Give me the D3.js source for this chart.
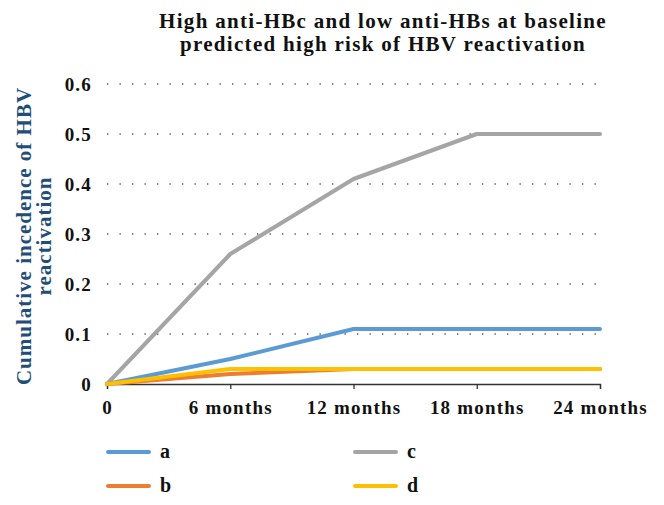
<!DOCTYPE html>
<html><head><meta charset="utf-8">
<script src="https://cdn.jsdelivr.net/npm/d3@7"></script>
<style>body{margin:0;background:#fff}svg{display:block}</style>
</head><body>
<script>
const categories = ["0", "6 months", "12 months", "18 months", "24 months"];
const seriesNames = ["a", "b", "c", "d"];
const aValues = [0, 0.05, 0.11, 0.11, 0.11];
const bValues = [0, 0.02, 0.03, 0.03, 0.03];
const cValues = [0, 0.26, 0.41, 0.5, 0.5];
const dValues = [0, 0.03, 0.03, 0.03, 0.03];
const yTicks = [0, 0.1, 0.2, 0.3, 0.4, 0.5, 0.6];
const colors = ["#5B9BD5", "#ED7D31", "#A5A5A5", "#FFC000"];
const titleLines = ["High anti-HBc and low anti-HBs at baseline", "predicted high risk of HBV reactivation"];
const yTitleLines = ["Cumulative incedence of HBV", "reactivation"];

const W = 664, H = 505;
const font = "'Liberation Serif', 'DejaVu Serif', serif";
const svg = d3.select("body").append("svg").attr("width", W).attr("height", H);

const x = d3.scalePoint().domain(categories).range([107, 600]);
const y = d3.scaleLinear().domain([0, 0.6]).range([384, 84]);

// gridlines
svg.append("g").selectAll("line").data(yTicks.filter(t => t > 0)).join("line")
  .attr("x1", 107).attr("x2", 600)
  .attr("y1", d => y(d)).attr("y2", d => y(d))
  .attr("stroke", "#555").attr("stroke-width", 1.3)
  .attr("stroke-dasharray", "1.3,11.2");

// y tick labels
svg.append("g").selectAll("text").data(yTicks).join("text")
  .attr("x", 92).attr("y", d => y(d)).attr("dy", "0.35em")
  .attr("text-anchor", "end")
  .style("font-family", font).style("font-weight", "bold").style("font-size", "19px")
  .style("letter-spacing", "1.2px")
  .attr("fill", "#111")
  .text(d => d === 0 ? "0" : d3.format(".1f")(d));

// x axis
const xAxis = d3.axisBottom(x).tickSize(5).tickFormat(d => d);
const gx = svg.append("g").attr("transform", `translate(0,${y(0)})`).call(xAxis);
gx.select(".domain").attr("stroke", "#333").attr("stroke-width", 1.3);
gx.selectAll(".tick line").attr("stroke", "#333").attr("stroke-width", 1.3);
gx.selectAll(".tick text")
  .style("font-family", font).style("font-weight", "bold").style("font-size", "19px")
  .style("letter-spacing", "1.2px")
  .attr("fill", "#111").attr("y", 30).attr("dy", 0);

// lines
const allSeries = [aValues, bValues, cValues, dValues];
const line = d3.line().x((d, i) => x(categories[i])).y(d => y(d));
const drawOrder = [2, 0, 1, 3];
svg.append("g").selectAll("path").data(drawOrder).join("path")
  .attr("d", i => line(allSeries[i]))
  .attr("fill", "none").attr("stroke", i => colors[i])
  .attr("stroke-width", 4).attr("stroke-linecap", "round").attr("stroke-linejoin", "round");

// title
svg.append("g").selectAll("text").data(titleLines).join("text")
  .attr("x", 383).attr("y", (d, i) => 28 + i * 23)
  .attr("text-anchor", "middle")
  .style("font-family", font).style("font-weight", "bold").style("font-size", "21px")
  .style("letter-spacing", "1.3px")
  .attr("fill", "#111").text(d => d);

// y title
svg.append("g").attr("transform", "translate(0,236) rotate(-90)")
  .selectAll("text").data(yTitleLines).join("text")
  .attr("x", 0).attr("y", (d, i) => 31 + i * 20)
  .attr("text-anchor", "middle")
  .style("font-family", font).style("font-weight", "bold").style("font-size", "21px")
  .style("letter-spacing", "1px")
  .attr("fill", "#1F4E79").text(d => d);

// legend
const legPos = [[106, 452], [106, 486], [353, 452], [353, 486]];
const leg = svg.append("g").selectAll("g").data(seriesNames).join("g")
  .attr("transform", (d, i) => `translate(${legPos[i][0]},${legPos[i][1]})`);
leg.append("line").attr("x1", 2).attr("x2", 43).attr("y1", 0).attr("y2", 0)
  .attr("stroke", (d, i) => colors[i]).attr("stroke-width", 4).attr("stroke-linecap", "round");
leg.append("text").attr("x", 54).attr("y", 0).attr("dy", "0.32em")
  .style("font-family", font).style("font-weight", "bold").style("font-size", "20px")
  .attr("fill", "#111").text(d => d);
</script>
</body></html>
